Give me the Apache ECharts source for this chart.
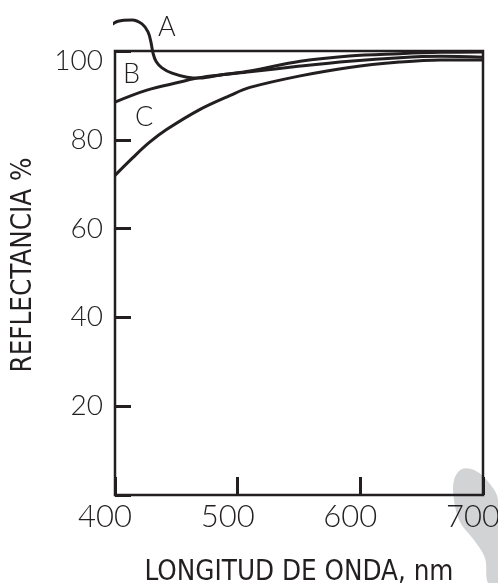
<!DOCTYPE html>
<html>
<head>
<meta charset="utf-8">
<script src="https://cdn.jsdelivr.net/npm/echarts@6/dist/echarts.min.js"></script>
<style>
html,body{margin:0;padding:0;background:#fff;}
#chart{width:498px;height:583px;}
</style>
</head>
<body>
<div id="chart"></div>
<script>
// Wavelength (nm) / reflectance (%) readings for each curve
var curveA = [[394.3,105.3],[402.4,106.7],[413.9,107.0],[422,106.1],[426.9,104.3],[429.3,102.0],[431,99.5],[433.4,97.7],[438.3,96.2],[446.5,95.0],[458.7,94.1],[469.3,93.9],[486,94.6],[510,95.5],[551,97.7],[591,98.9],[632,99.4],[665,99.7],[700,99.8]];
var curveB = [[400,88.5],[426,91.2],[453,93.0],[469,94.0],[486,94.6],[510,95.3],[551,96.6],[591,97.7],[632,98.5],[665,98.8],[700,98.6]];
var curveC = [[400,72.0],[415,76.1],[428,79.4],[442,82.3],[469,86.8],[494,90.0],[510,91.8],[551,94.4],[591,96.3],[632,97.5],[665,98.0],[700,98.0]];
var curveNames = ['A','B','C'];
var xTicks = [400,500,600,700];
var yTicks = [20,40,60,80,100];
var xTitle = 'LONGITUD DE ONDA, nm';
var yTitle = 'REFLECTANCIA %';

var ink = '#231f20';
var labelFont = 'Lato, "Open Sans", sans-serif';
var titleFont = '"DejaVu Sans Condensed", "Liberation Sans Narrow", "Liberation Sans", sans-serif';
var chart = echarts.init(document.getElementById('chart'), null, {renderer:'canvas'});

function lineSeries(name, data){
  return {
    name: name, type: 'line', data: data, smooth: 0.35, symbol: 'none', clip: false,
    lineStyle: {color: ink, width: 3}, z: 5
  };
}

chart.setOption({
  animation: false,
  backgroundColor: '#fff',
  grid: {left: 115, right: 15, top: 51, bottom: 88, show: true, borderColor: ink, borderWidth: 2.5,
         backgroundColor: 'transparent', z: 4, containLabel: false, outerBoundsMode: 'none'},
  xAxis: {
    type: 'value', min: xTicks[0], max: xTicks[xTicks.length-1], interval: 100,
    axisLine: {show: false},
    splitLine: {show: false},
    axisTick: {show: true, inside: true, length: 18, lineStyle: {color: ink, width: 3}},
    axisLabel: {
      margin: 6, color: ink, fontSize: 31, fontFamily: labelFont, fontWeight: 300,
      padding: [0, 20, 0, 0],
      formatter: function(v){ return xTicks.indexOf(v) >= 0 ? String(v) : ''; }
    },
    name: xTitle, nameLocation: 'middle', nameGap: 64,
    nameTextStyle: {color: ink, fontSize: 27.5, fontFamily: titleFont}
  },
  yAxis: {
    type: 'value', min: 0, max: 100, interval: 20,
    axisLine: {show: false},
    splitLine: {show: false},
    axisTick: {show: true, inside: true, length: 16, lineStyle: {color: ink, width: 3}},
    axisLabel: {
      margin: 12, color: ink, fontSize: 28, fontFamily: labelFont, fontWeight: 300,
      formatter: function(v){
        if (v === 100) return '{t|100}';
        return yTicks.indexOf(v) >= 0 ? String(v) : '';
      },
      rich: {t: {fontSize: 28, fontFamily: labelFont, fontWeight: 300, color: ink, padding: [20, 0, 0, 0]}}
    },
    name: yTitle, nameLocation: 'middle', nameGap: 77,
    nameTextStyle: {color: ink, fontSize: 27.5, fontFamily: titleFont, padding: [0, 0, 0, 16]}
  },
  graphic: [
    {type: 'polygon', z: -10, silent: true,
     shape: {points: [[462,469],[454,480],[454,500],[460,522],[474,540],[485,558],[488,583],[498,583],[498,500],[490,484],[476,471]], smooth: 0.35},
     style: {fill: '#d2d3d5'}},
    {type: 'text', left: 158, top: 14, z: 10, style: {text: curveNames[0], font: '300 27px ' + labelFont, fill: ink}},
    {type: 'text', left: 123, top: 61, z: 10, style: {text: curveNames[1], font: '300 27px ' + labelFont, fill: ink}},
    {type: 'text', left: 135, top: 104, z: 10, style: {text: curveNames[2], font: '300 27px ' + labelFont, fill: ink}}
  ],
  series: [lineSeries(curveNames[0], curveA), lineSeries(curveNames[1], curveB), lineSeries(curveNames[2], curveC)]
});
</script>
</body>
</html>
